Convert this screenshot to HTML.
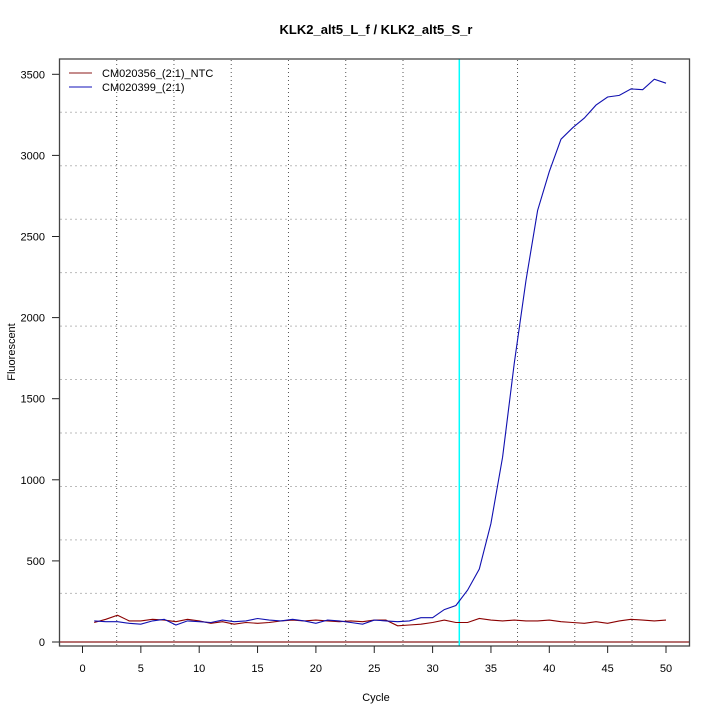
<!DOCTYPE html>
<html><head><meta charset="utf-8"><style>
body{margin:0;background:#fff;}
svg{display:block;font-family:"Liberation Sans",Arial,sans-serif;}
</style></head><body>
<svg id="s" width="720" height="720" xmlns="http://www.w3.org/2000/svg">
<rect width="720" height="720" fill="#fff"/>
<g id="grid" stroke="#bbb" stroke-width="1" stroke-dasharray="2,3"></g>
<g id="vgrid" stroke="#555" stroke-width="1" stroke-dasharray="1,3"></g>
<line x1="59" y1="642" x2="689.5" y2="642" stroke="#8b1a1a" stroke-width="1.2"/>
<line x1="459.3" y1="59" x2="459.3" y2="646" stroke="#00ffff" stroke-width="1.5"/>
<polyline id="red" fill="none" stroke="#8b0000" stroke-width="1.1"/>
<polyline id="blue" fill="none" stroke="#1010b0" stroke-width="1.1"/>
<rect x="59.5" y="59" width="630" height="587" fill="none" stroke="#444" stroke-width="1.3"/>
<g id="ticks" stroke="#222" stroke-width="1"></g>
<g id="labels" font-size="11" fill="#000"></g>
<line x1="69" y1="73" x2="92" y2="73" stroke="#8b1a1a" stroke-width="1"/>
<line x1="69" y1="87" x2="92" y2="87" stroke="#6060d0" stroke-width="1.5"/>
<text x="102" y="77" font-size="11">CM020356_(2:1)_NTC</text>
<text x="102" y="91" font-size="11">CM020399_(2:1)</text>
<text x="376" y="34" font-size="13" font-weight="bold" text-anchor="middle">KLK2_alt5_L_f / KLK2_alt5_S_r</text>
<text x="376" y="701" font-size="11" text-anchor="middle">Cycle</text>
<text transform="translate(15,352) rotate(-90)" font-size="11" text-anchor="middle">Fluorescent</text>
</svg>
<script>
var NS="http://www.w3.org/2000/svg";
function X(c){return 82.5+c*11.67;}
function Y(v){return 642-v*0.1622;}
function el(p,t,a,txt){var e=document.createElementNS(NS,t);for(var k in a)e.setAttribute(k,a[k]);if(txt)e.textContent=txt;document.getElementById(p).appendChild(e);}
for(var k=0;k<10;k++){var y=112.3+53.45*k;el("grid","line",{x1:60,x2:689,y1:y,y2:y});}
for(var k=0;k<10;k++){if(k==6)continue;var x=116.7+57.26*k;el("vgrid","line",{x1:x,x2:x,y1:60,y2:645});}
for(var c=0;c<=50;c+=5){el("ticks","line",{x1:X(c),x2:X(c),y1:646,y2:653});el("labels","text",{x:X(c),y:672,"text-anchor":"middle"},""+c);}
for(var v=0;v<=3500;v+=500){el("ticks","line",{x1:52,x2:59,y1:Y(v),y2:Y(v)});el("labels","text",{x:45,y:Y(v)+4,"text-anchor":"end"},""+v);}
var b=[130,125,125,115,110,130,140,105,130,125,120,135,125,130,145,135,130,140,130,115,135,130,120,110,135,130,125,130,150,150,200,225,320,450,730,1140,1720,2230,2660,2900,3100,3170,3230,3310,3360,3370,3410,3405,3470,3445];
var r=[120,140,165,130,130,140,135,125,140,130,115,125,110,120,115,120,130,135,130,135,130,125,130,125,135,135,100,105,110,120,135,120,120,145,135,130,135,130,130,135,125,120,115,125,115,130,140,135,130,135];
function pts(a){return a.map(function(v,i){return X(i+1).toFixed(1)+","+Y(v).toFixed(1);}).join(" ");}
document.getElementById("red").setAttribute("points",pts(r));
document.getElementById("blue").setAttribute("points",pts(b));
</script>
</body></html>
